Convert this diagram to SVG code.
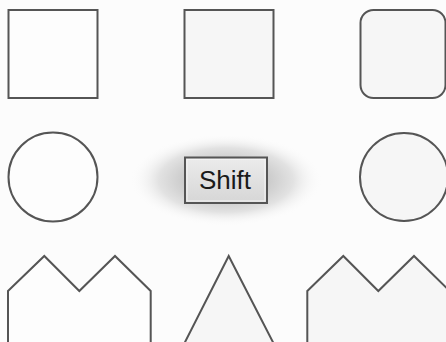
<svg xmlns="http://www.w3.org/2000/svg" width="446" height="342" viewBox="0 0 446 342">
  <defs>
    <radialGradient id="glow" cx="50%" cy="50%" r="50%">
      <stop offset="0" stop-color="#bcbcbc"/>
      <stop offset="0.4" stop-color="#c8c8c8"/>
      <stop offset="0.7" stop-color="#e2e2e2"/>
      <stop offset="1" stop-color="#fcfcfc" stop-opacity="0"/>
    </radialGradient>
    <linearGradient id="btn" x1="0" y1="0" x2="0" y2="1">
      <stop offset="0" stop-color="#ececec"/>
      <stop offset="1" stop-color="#d6d6d6"/>
    </linearGradient>
    <style>
      .shape { stroke: #555; stroke-width: 2; stroke-linejoin: miter; }
      .w { fill: #fdfdfd; }
      .g { fill: #f6f6f6; }
      .label { font-family: "Liberation Sans", Arial, sans-serif; font-size: 26px; fill: #1a1a1a; text-anchor: middle; }
    </style>
  </defs>
  <rect width="446" height="342" fill="#fcfcfc"/>
  <g id="square-1"><rect class="shape w" x="8.5" y="10" width="89" height="88"/></g>
  <g id="square-2"><rect class="shape g" x="184.5" y="10" width="89" height="88"/></g>
  <g id="rounded-square"><rect class="shape g" x="360.5" y="10" width="85" height="88" rx="13"/></g>
  <g id="circle-1"><circle class="shape w" cx="53" cy="177" r="44.5"/></g>
  <g id="circle-2"><circle class="shape g" cx="404" cy="177" r="44"/></g>
  <g id="shift">
    <ellipse cx="226" cy="180" rx="96" ry="46" fill="url(#glow)"/>
    <rect x="185" y="157.5" width="82" height="45.5" fill="url(#btn)" stroke="#555" stroke-width="2"/>
    <rect x="187" y="159.5" width="78" height="41.5" fill="none" stroke="#f4f4f4" stroke-width="1"/>
    <text class="label" x="225" y="189">Shift</text>
  </g>
  <g id="pentagon-1"><polygon class="shape w" points="8,291 44.3,256 79.3,291 115,256 150.7,291 150.7,350 8,350"/></g>
  <g id="triangle"><polygon class="shape g" points="228.7,256 181,350 277,350"/></g>
  <g id="pentagon-2"><polygon class="shape g" points="307.3,291 343.3,256 378.3,291 414,256 449.7,291 449.7,350 307.3,350"/></g>
  <g id="connectors"></g>
</svg>
